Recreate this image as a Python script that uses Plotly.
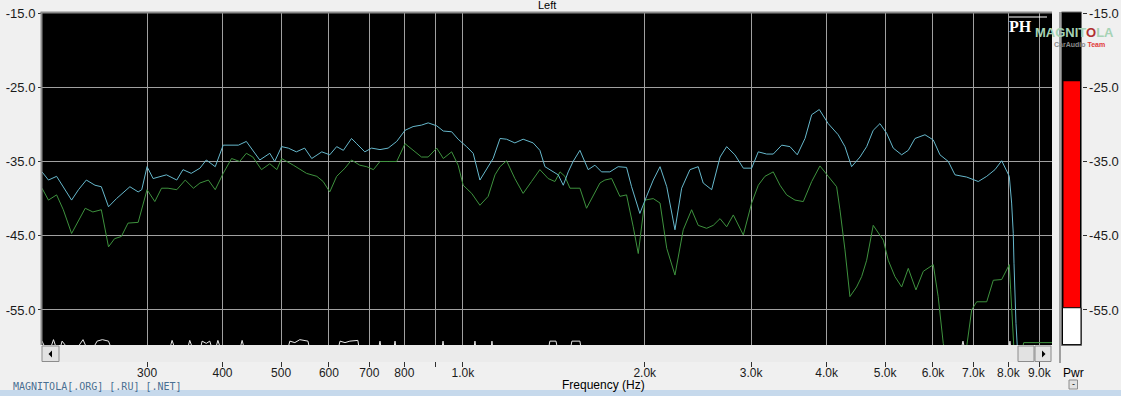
import math
import plotly.graph_objects as go

# ---------------- data ----------------
x_tick_vals = [300, 400, 500, 600, 700, 800, 900, 1000, 2000, 3000, 4000, 5000, 6000, 7000, 8000, 9000]
x_tick_text = ["300", "400", "500", "600", "700", "800", "", "1.0k", "2.0k", "3.0k", "4.0k", "5.0k",
               "6.0k", "7.0k", "8.0k", "9.0k"]
y_tick_vals = [-15, -25, -35, -45, -55]
y_tick_text = ["-15.0", "-25.0", "-35.0", "-45.0", "-55.0"]

cyan_freq = [201, 202, 206, 212.5, 218, 225, 231, 238, 246, 252,
             259, 267, 281, 290, 294, 300, 307, 323, 336, 344,
             355, 367, 376, 389, 401, 425, 438, 449, 461, 479,
             488, 501, 514, 530, 547, 562, 584, 602, 618, 634,
             654, 667, 688, 706, 729, 752, 777, 802, 827, 854,
             876, 905, 928, 958, 982, 1014, 1040, 1067, 1094, 1122,
             1152, 1181, 1219, 1258, 1307, 1341, 1367, 1411, 1438, 1466,
             1494, 1522, 1562, 1612, 1654, 1696, 1751, 1807, 1866, 1902,
             1963, 2014, 2066, 2120, 2175, 2244, 2302, 2376, 2452, 2499,
             2581, 2665, 2733, 2820, 2912, 3006, 3083, 3183, 3264, 3371,
             3479, 3577, 3684, 3779, 3890, 4025, 4181, 4290, 4400, 4543,
             4660, 4778, 4902, 5029, 5157, 5325, 5461, 5602, 5820, 6007,
             6162, 6361, 6525, 6824, 7131, 7364, 7600, 7797, 8026, 8098,
             8149, 8171, 8202, 8233, 8274, 8400, 9450]
cyan_db = [-36.4, -36.6, -37.5, -37.0, -38.4, -40.2, -38.8, -37.5, -38.2, -38.4,
           -41.1, -40.0, -38.4, -39.1, -38.8, -35.7, -37.3, -36.8, -37.5, -36.1,
           -36.6, -35.9, -34.8, -35.7, -32.8, -32.8, -32.3, -33.5, -34.8, -33.9,
           -35.0, -33.0, -33.2, -33.7, -33.2, -34.6, -33.7, -34.1, -33.0, -33.5,
           -31.9, -32.6, -33.7, -33.2, -33.4, -33.2, -32.3, -30.8, -30.3, -30.1,
           -29.8, -30.2, -30.9, -31.0, -32.0, -33.0, -33.9, -37.5, -36.1, -34.6,
           -31.9, -32.0, -32.5, -32.0, -32.5, -33.5, -35.7, -36.4, -36.8, -38.2,
           -36.4, -35.0, -33.5, -36.1, -35.5, -36.4, -36.4, -35.7, -35.8, -38.4,
           -42.0, -39.7, -37.5, -35.7, -38.4, -44.2, -38.6, -36.1, -35.7, -37.9,
           -38.8, -34.4, -33.0, -34.1, -35.9, -35.9, -33.7, -34.0, -34.0, -32.8,
           -33.0, -34.1, -31.9, -28.7, -28.0, -29.9, -31.4, -33.0, -35.7, -34.4,
           -33.0, -30.8, -29.9, -31.2, -33.2, -34.1, -33.5, -31.9, -31.4, -32.1,
           -34.1, -35.0, -36.8, -37.1, -37.7, -37.0, -36.1, -34.9, -37.0, -40.6,
           -44.7, -48.7, -53.2, -56.8, -59.9, -63.0, -63.0]

green_freq = [201, 206, 212.5, 218, 225, 231, 237, 244, 252, 259,
              265, 272, 279, 290, 300, 309, 317, 325, 336, 347,
              358, 367, 379, 389, 401, 414, 427, 438, 449, 464,
              479, 492, 501, 524, 551, 573, 587, 602, 618, 638,
              654, 675, 693, 711, 729, 752, 777, 802, 827, 854,
              876, 905, 928, 958, 982, 1001, 1034, 1067, 1101, 1130,
              1152, 1181, 1219, 1258, 1299, 1341, 1384, 1420, 1448, 1475,
              1504, 1562, 1602, 1643, 1686, 1718, 1763, 1819, 1866, 1914,
              1951, 2001, 2066, 2120, 2175, 2244, 2316, 2391, 2452, 2532,
              2597, 2665, 2733, 2803, 2912, 3006, 3083, 3162, 3264, 3349,
              3435, 3546, 3660, 3779, 3900, 4025, 4156, 4209, 4290, 4372,
              4485, 4572, 4660, 4778, 4965, 5059, 5190, 5325, 5461, 5623,
              5782, 6007, 6120, 6240, 6412, 6780, 6824, 6954, 7088, 7364,
              7551, 7797, 8026, 8068, 8130, 8171, 8300, 8480, 9450]
green_db = [-38.6, -40.2, -39.5, -41.5, -44.7, -42.9, -41.3, -41.8, -41.5, -46.5,
            -45.4, -45.1, -43.3, -43.2, -38.8, -40.4, -38.6, -38.6, -38.8, -37.5,
            -38.6, -37.9, -37.5, -38.8, -36.6, -34.6, -35.0, -33.9, -34.4, -36.1,
            -35.3, -36.1, -34.6, -35.5, -36.6, -37.0, -37.7, -39.1, -37.0, -35.9,
            -34.8, -35.5, -35.7, -36.1, -35.0, -35.0, -35.0, -32.6, -33.5, -34.4,
            -34.4, -33.2, -34.6, -33.7, -35.5, -38.2, -39.3, -40.9, -39.7, -36.8,
            -35.7, -34.9, -37.3, -39.3, -37.7, -36.1, -37.3, -37.7, -36.4, -37.0,
            -38.6, -38.6, -41.3, -39.7, -37.9, -37.5, -37.3, -39.7, -39.5, -43.8,
            -47.4, -40.2, -40.0, -40.6, -46.7, -50.3, -44.2, -41.5, -43.6, -44.0,
            -43.6, -42.7, -43.8, -42.2, -44.9, -40.6, -38.2, -37.0, -36.4, -38.2,
            -39.5, -40.2, -40.4, -37.7, -35.6, -37.0, -38.4, -41.5, -46.9, -53.2,
            -51.9, -50.5, -48.3, -43.6, -45.6, -48.3, -50.5, -51.9, -49.4, -52.3,
            -49.8, -48.9, -53.2, -59.5, -63.0, -63.0, -59.9, -55.0, -53.9, -53.9,
            -51.0, -50.9, -48.9, -52.3, -56.8, -60.4, -63.0, -59.4, -59.4]

white_freq = [201, 206, 210, 214, 217, 226, 235, 241, 248, 253, 259, 264,
              325, 330, 336, 348, 353, 360, 366, 370, 376, 381, 387, 393, 400,
              425, 431, 437, 510, 517, 527, 537, 554, 560, 618, 626, 638, 650, 670, 676,
              722, 729, 735, 766, 772, 778, 920, 927, 934, 1040, 1047, 1054,
              1110, 1117, 1124, 1380, 1393, 1426, 1440, 1500, 1515, 1562, 1575,
              6650, 6727, 6800, 7990, 8045, 8100]
white_db = [-59.2, -61.0, -59.0, -61.0, -59.2, -61.0, -59.0, -61.0, -59.2, -59.0, -59.2, -61.0,
            -61.0, -59.1, -61.0, -61.0, -59.1, -61.0, -61.0, -59.2, -59.5, -59.2, -61.0, -59.1, -61.0,
            -61.0, -59.1, -61.0, -61.0, -59.2, -59.4, -59.0, -59.2, -61.0, -61.0, -59.2, -59.4, -59.2, -59.1, -61.0,
            -61.0, -59.2, -61.0, -61.0, -59.2, -61.0, -61.0, -59.2, -61.0, -61.0, -59.2, -61.0,
            -61.0, -59.2, -61.0, -61.0, -59.2, -59.2, -61.0, -61.0, -59.2, -59.2, -61.0,
            -61.0, -59.2, -61.0, -61.0, -59.2, -61.0]

pwr_level_db = -24.2
pwr_red_floor_db = -54.7

# ---------------- layout helpers ----------------
W, H = 1121, 396
L, R, T, B = 42, 3, 13, 51
PW = W - L - R
PH = H - T - B
Y_RANGE = [-59.72, -15]


def px(x):
    return (x - L) / PW


def py(y):
    return (H - B - y) / PH


FONT = "Liberation Sans, Arial, sans-serif"

fig = go.Figure()
fig.add_trace(go.Scatter(x=white_freq, y=white_db, mode="lines",
                         line=dict(color="#e8e8e8", width=1), hoverinfo="skip", showlegend=False))
fig.add_trace(go.Scatter(x=green_freq, y=green_db, mode="lines",
                         line=dict(color="#3e923e", width=1), showlegend=False))
fig.add_trace(go.Scatter(x=cyan_freq, y=cyan_db, mode="lines",
                         line=dict(color="#66b8cc", width=1), showlegend=False))
fig.add_trace(go.Scatter(x=[1000], y=[-15], yaxis="y2", mode="markers",
                         marker=dict(opacity=0), hoverinfo="skip", showlegend=False))

shapes = []
# plot border (top & left)
shapes.append(dict(type="line", xref="paper", yref="paper", x0=px(40.5), x1=px(1052), y0=py(12.5), y1=py(12.5),
                   line=dict(color="#8a8a8a", width=2), layer="above"))
shapes.append(dict(type="line", xref="paper", yref="paper", x0=px(41.5), x1=px(41.5), y0=py(12), y1=py(345),
                   line=dict(color="#8a8a8a", width=2), layer="above"))
# scrollbar
shapes.append(dict(type="rect", xref="paper", yref="paper", x0=px(42), x1=px(1052), y0=py(362), y1=py(345),
                   fillcolor="#ebebeb", line=dict(width=0), layer="above"))
for bx0, bx1 in [(42, 59), (1018, 1034), (1035, 1051)]:
    shapes.append(dict(type="rect", xref="paper", yref="paper", x0=px(bx0), x1=px(bx1), y0=py(361.5), y1=py(346),
                       fillcolor="#e2e2e2", line=dict(color="#8c8c8c", width=1), layer="above"))
shapes.append(dict(type="path", xref="paper", yref="paper",
                   path=f"M {px(48.5)} {py(354)} L {px(52)} {py(350.5)} L {px(52)} {py(357.5)} Z",
                   fillcolor="#000000", line=dict(width=0), layer="above"))
shapes.append(dict(type="path", xref="paper", yref="paper",
                   path=f"M {px(1045.5)} {py(354)} L {px(1042)} {py(350.5)} L {px(1042)} {py(357.5)} Z",
                   fillcolor="#000000", line=dict(width=0), layer="above"))
# separator and power meter
shapes.append(dict(type="line", xref="paper", yref="paper", x0=px(1060), x1=px(1060), y0=py(12), y1=py(363),
                   line=dict(color="#a0a0a0", width=2), layer="above"))
shapes.append(dict(type="rect", xref="paper", yref="paper", x0=px(1061.5), x1=px(1081.5), y0=py(345.5), y1=py(12),
                   fillcolor="#000000", line=dict(color="#707070", width=1), layer="above"))
shapes.append(dict(type="rect", xref="paper", yref="y2", x0=px(1063.5), x1=px(1080), y0=pwr_red_floor_db,
                   y1=pwr_level_db, fillcolor="#ff0000", line=dict(width=0), layer="above"))
shapes.append(dict(type="rect", xref="paper", yref="y2", x0=px(1062.5), x1=px(1081), y0=Y_RANGE[0] + 0.05,
                   y1=pwr_red_floor_db, fillcolor="#ffffff", line=dict(color="#000000", width=1), layer="above"))
# logo underline
shapes.append(dict(type="line", xref="paper", yref="paper", x0=px(1009), x1=px(1047), y0=py(17), y1=py(17),
                   line=dict(color="#ffffff", width=1), layer="above"))
# small button below Pwr
shapes.append(dict(type="rect", xref="paper", yref="paper", x0=px(1069), x1=px(1077.5), y0=py(389), y1=py(380),
                   fillcolor="#e2e2e2", line=dict(color="#8c8c8c", width=1), layer="above"))
# bottom strip
shapes.append(dict(type="rect", xref="paper", yref="paper", x0=px(-2), x1=px(1123), y0=py(397), y1=py(390),
                   fillcolor="#c6d9ec", line=dict(width=0), layer="above"))

annotations = [
    dict(text="Left", xref="paper", yref="paper", x=px(547), y=py(5.5), showarrow=False,
         font=dict(family=FONT, size=11, color="#000000"), xanchor="center", yanchor="middle"),
    dict(text="Frequency (Hz)", xref="paper", yref="paper", x=px(603), y=py(384.5), showarrow=False,
         font=dict(family=FONT, size=12, color="#000000"), xanchor="center", yanchor="middle"),
    dict(text="Pwr", xref="paper", yref="paper", x=px(1073), y=py(372.5), showarrow=False,
         font=dict(family=FONT, size=12, color="#000000"), xanchor="center", yanchor="middle"),
    dict(text="-", xref="paper", yref="paper", x=px(1073), y=py(384), showarrow=False,
         font=dict(family=FONT, size=9, color="#000000"), xanchor="center", yanchor="middle"),
    dict(text="MAGNITOLA[.ORG] [.RU] [.NET]", xref="paper", yref="paper", x=px(11), y=py(386),
         showarrow=False, font=dict(family="DejaVu Sans Mono, monospace", size=10, color="#4a6f92"),
         xanchor="left", yanchor="middle"),
    dict(text="<b>PH</b>", xref="paper", yref="paper", x=px(1020), y=py(27), showarrow=False,
         font=dict(family="Liberation Serif, serif", size=16, color="#ffffff"), xanchor="center", yanchor="middle"),
    dict(text="<b>MAGNIT<span style='color:#b03030'>O</span>LA</b>", xref="paper", yref="paper",
         x=px(1033), y=py(32), showarrow=False,
         font=dict(family="Liberation Sans Narrow, Arial Narrow, sans-serif", size=13, color="#a6d3b5"),
         xanchor="left", yanchor="middle"),
    dict(text="<b>CarAudio <span style='color:#e03a3a'>Team</span></b>", xref="paper", yref="paper",
         x=px(1079), y=py(45), showarrow=False,
         font=dict(family=FONT, size=7, color="#8a8a8a"), xanchor="center", yanchor="middle"),
]

fig.update_layout(
    width=W, height=H,
    margin=dict(l=L, r=R, t=T, b=B, pad=0),
    paper_bgcolor="#f0f0f0",
    plot_bgcolor="#000000",
    showlegend=False,
    xaxis=dict(type="log", range=[math.log10(201), math.log10(9445)], domain=[0, px(1052)],
               tickvals=x_tick_vals, ticktext=x_tick_text, ticks="outside", ticklen=21, tickwidth=1,
               tickcolor="#303030", showgrid=True, gridcolor="#a0a0a0", gridwidth=1,
               showline=False, zeroline=False, ticklabelstandoff=-4,
               tickfont=dict(family=FONT, size=12, color="#1a1a1a")),
    yaxis=dict(range=Y_RANGE, tickvals=y_tick_vals, ticktext=y_tick_text, ticks="outside", ticklen=3,
               tickwidth=1, tickcolor="#303030", showgrid=True, gridcolor="#a0a0a0", gridwidth=1,
               showline=False, zeroline=False,
               tickfont=dict(family=FONT, size=13, color="#1a1a1a")),
    yaxis2=dict(range=Y_RANGE, overlaying="y", anchor="free", position=px(1081.5), side="right",
                tickvals=y_tick_vals, ticktext=y_tick_text, ticks="outside", ticklen=4, tickwidth=1,
                tickcolor="#303030", showgrid=False, showline=False, zeroline=False,
                tickfont=dict(family=FONT, size=13, color="#1a1a1a")),
    shapes=shapes,
    annotations=annotations,
)

fig.write_html("out.html")
